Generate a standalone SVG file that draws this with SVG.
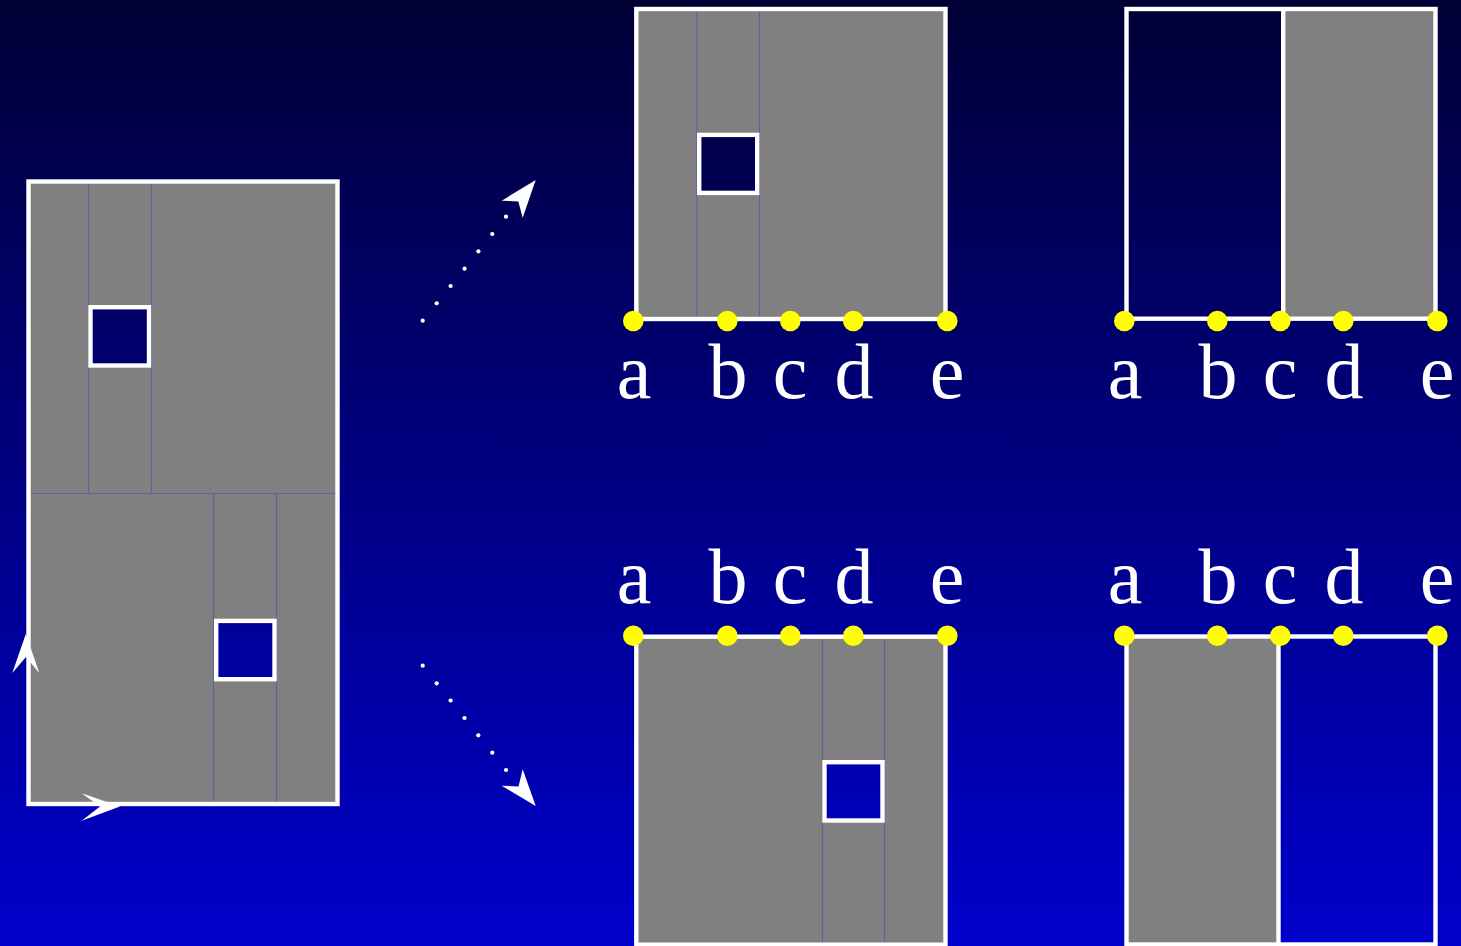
<svg xmlns="http://www.w3.org/2000/svg" width="1461" height="946" viewBox="0 0 1461 946">
<defs>
<linearGradient id="bg" gradientUnits="userSpaceOnUse" x1="0" y1="0" x2="0" y2="946">
<stop offset="0" stop-color="#000036"/>
<stop offset="1" stop-color="#0000CC"/>
</linearGradient>
</defs>
<style>
.box{fill:none;stroke:#ffffff;stroke-width:4.4}
.gray{fill:#808080;stroke:none}
.div{stroke:#62629a;stroke-width:1.2;fill:none}
.sq{fill:url(#bg);stroke:#ffffff;stroke-width:4.4}
.dot{fill:#ffff00}
.lbl{font-family:"Liberation Serif","Times New Roman",serif;font-size:78px;fill:#ffffff;text-anchor:middle}
.ah{fill:#ffffff}
.pt{fill:#ffffff}
</style>
<rect x="0" y="0" width="1461" height="946" fill="url(#bg)"/>

<g id="left-box">
<rect class="gray" x="28.5" y="181.5" width="309" height="622.5"/>
<line class="div" x1="88.5" y1="181.5" x2="88.5" y2="493.5"/>
<line class="div" x1="151.5" y1="181.5" x2="151.5" y2="493.5"/>
<line class="div" x1="28.5" y1="493.5" x2="337.5" y2="493.5"/>
<line class="div" x1="213.5" y1="493.5" x2="213.5" y2="804"/>
<line class="div" x1="276.5" y1="493.5" x2="276.5" y2="804"/>
<rect class="box" x="28.5" y="181.5" width="309" height="622.5"/>
<rect class="sq" x="90.5" y="307.2" width="58.5" height="58.3"/>
<rect class="sq" x="216.2" y="620.9" width="58.3" height="58.3"/>
</g>

<g id="top-middle">
<rect class="gray" x="636.3" y="9" width="309.2" height="310"/>
<line class="div" x1="696.8" y1="9" x2="696.8" y2="319"/>
<line class="div" x1="759.5" y1="9" x2="759.5" y2="319"/>
<rect class="box" x="636.3" y="9" width="309.2" height="310"/>
<rect class="sq" x="699.2" y="134.9" width="58" height="58"/>
<circle class="dot" cx="633.3" cy="321" r="10.3"/>
<circle class="dot" cx="727.3" cy="321" r="10.3"/>
<circle class="dot" cx="790.3" cy="321" r="10.3"/>
<circle class="dot" cx="853.3" cy="321" r="10.3"/>
<circle class="dot" cx="947.3" cy="321" r="10.3"/>
<text class="lbl" x="634" y="398">a</text>
<text class="lbl" x="728" y="398">b</text>
<text class="lbl" x="790" y="398">c</text>
<text class="lbl" x="854" y="398">d</text>
<text class="lbl" x="947" y="398">e</text>
</g>

<g id="top-right">
<rect class="gray" x="1283.2" y="9" width="152.3" height="309.7"/>
<rect class="box" x="1126.5" y="9" width="309" height="309.7"/>
<line class="box" x1="1283.2" y1="9" x2="1283.2" y2="318.7"/>
<circle class="dot" cx="1124.3" cy="321" r="10.3"/>
<circle class="dot" cx="1217.3" cy="321" r="10.3"/>
<circle class="dot" cx="1280.3" cy="321" r="10.3"/>
<circle class="dot" cx="1343.3" cy="321" r="10.3"/>
<circle class="dot" cx="1437.3" cy="321" r="10.3"/>
<text class="lbl" x="1125" y="398">a</text>
<text class="lbl" x="1218" y="398">b</text>
<text class="lbl" x="1280" y="398">c</text>
<text class="lbl" x="1344" y="398">d</text>
<text class="lbl" x="1437" y="398">e</text>
</g>

<g id="bottom-middle">
<rect class="gray" x="636.3" y="636.7" width="309.2" height="308"/>
<line class="div" x1="822.5" y1="636.7" x2="822.5" y2="944.7"/>
<line class="div" x1="884.5" y1="636.7" x2="884.5" y2="944.7"/>
<rect class="box" x="636.3" y="636.7" width="309.2" height="308"/>
<rect class="sq" x="824.5" y="762.2" width="58" height="58.3"/>
<circle class="dot" cx="633.3" cy="635.7" r="10.3"/>
<circle class="dot" cx="727.3" cy="635.7" r="10.3"/>
<circle class="dot" cx="790.3" cy="635.7" r="10.3"/>
<circle class="dot" cx="853.3" cy="635.7" r="10.3"/>
<circle class="dot" cx="947.3" cy="635.7" r="10.3"/>
<text class="lbl" x="634" y="603">a</text>
<text class="lbl" x="728" y="603">b</text>
<text class="lbl" x="790" y="603">c</text>
<text class="lbl" x="854" y="603">d</text>
<text class="lbl" x="947" y="603">e</text>
</g>

<g id="bottom-right">
<rect class="gray" x="1126.5" y="636.5" width="152" height="308"/>
<rect class="box" x="1126.5" y="636.5" width="309" height="308"/>
<line class="box" x1="1278.5" y1="636.5" x2="1278.5" y2="944.5"/>
<circle class="dot" cx="1124.3" cy="635.7" r="10.3"/>
<circle class="dot" cx="1217.3" cy="635.7" r="10.3"/>
<circle class="dot" cx="1280.3" cy="635.7" r="10.3"/>
<circle class="dot" cx="1343.3" cy="635.7" r="10.3"/>
<circle class="dot" cx="1437.3" cy="635.7" r="10.3"/>
<text class="lbl" x="1125" y="603">a</text>
<text class="lbl" x="1218" y="603">b</text>
<text class="lbl" x="1280" y="603">c</text>
<text class="lbl" x="1344" y="603">d</text>
<text class="lbl" x="1437" y="603">e</text>
</g>

<g id="connectors">
<polygon class="ah" points="25.8,634 39.3,673 26,657 12.3,673"/>
<polygon class="ah" points="120,806.5 81.7,793.3 100,806.5 81.7,820.7"/>
<g id="arrow-up">
<circle class="pt" cx="422.7" cy="320.7" r="2.1"/>
<circle class="pt" cx="436.7" cy="303.3" r="2.1"/>
<circle class="pt" cx="450.6" cy="286" r="2.1"/>
<circle class="pt" cx="464.6" cy="268.7" r="2.1"/>
<circle class="pt" cx="478.4" cy="251.3" r="2.1"/>
<circle class="pt" cx="492.3" cy="234" r="2.1"/>
<circle class="pt" cx="506" cy="216.7" r="2.1"/>
<polygon class="ah" points="535.7,180 522.7,217.7 518.3,201.5 501.7,200.7"/>
</g>
<g id="arrow-down">
<circle class="pt" cx="422.7" cy="665.7" r="2.1"/>
<circle class="pt" cx="436.7" cy="683.3" r="2.1"/>
<circle class="pt" cx="450.6" cy="700.5" r="2.1"/>
<circle class="pt" cx="464.5" cy="718" r="2.1"/>
<circle class="pt" cx="478.3" cy="735.3" r="2.1"/>
<circle class="pt" cx="492.3" cy="752.7" r="2.1"/>
<circle class="pt" cx="506" cy="770" r="2.1"/>
<polygon class="ah" points="535.7,806 501.7,785.7 518.5,786.5 522.7,769.3"/>
</g>
</g>
</svg>
